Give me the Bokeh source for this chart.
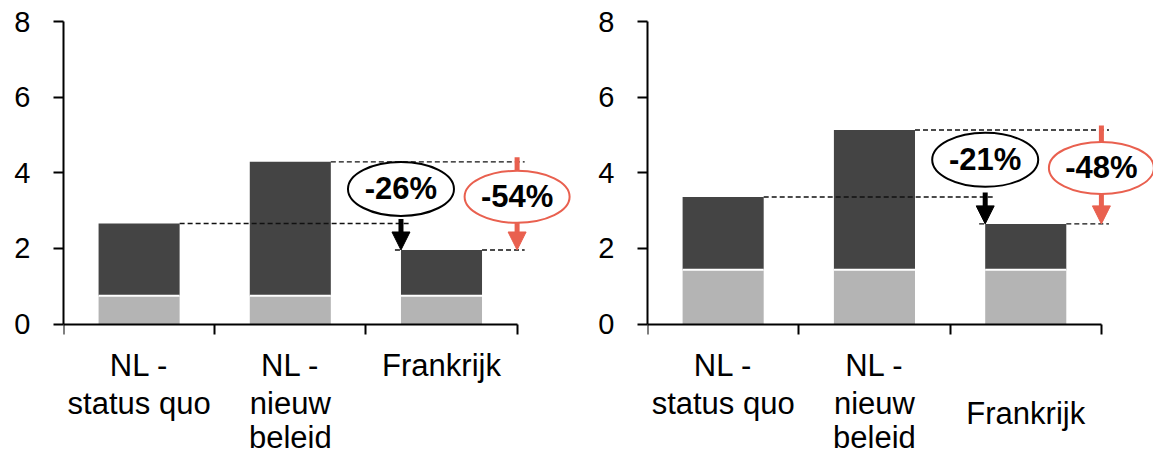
from bokeh.plotting import figure
from bokeh.layouts import row
from bokeh.models import Range1d, FixedTicker, Label, Arrow, NormalHead, LinearAxis
from bokeh.core.properties import value
from bokeh.embed import file_html
from bokeh.resources import INLINE

# ---------------- data ----------------
categories = [["NL -", "status quo"], ["NL -", "nieuw", "beleid"], ["Frankrijk"]]
y_ticks = [0, 2, 4, 6, 8]

left_base = [0.75, 0.75, 0.75]
left_total = [2.66, 4.29, 1.96]
left_pct = ["-26%", "-54%"]

right_base = [1.44, 1.44, 1.44]
right_total = [3.36, 5.13, 2.65]
right_pct = ["-21%", "-48%"]

# ---------------- style / layout ----------------
FONT = "Liberation Sans"
DARK = "#444444"
LIGHT = "#b4b4b4"
RED = "#e9604f"
BAR_W = 0.536
HEIGHT = 454
TOP = 21
PX_Y = 37.83  # pixels per y unit
LINE_Y = [-1.102, -2.094, -2.99]  # vertical centres of category label lines (data units)


def panel(base, total, pct, width, border_left, unit_px, frank_y):
    frame_w = width - border_left
    frame_h = HEIGHT - TOP
    y_start = 8 - frame_h / PX_Y
    p = figure(width=width, height=HEIGHT, output_backend="svg", toolbar_location=None,
               x_range=Range1d(0, frame_w / unit_px), y_range=Range1d(y_start, 8),
               x_axis_location=None, y_axis_location=None,
               min_border_left=border_left, min_border_right=0,
               min_border_top=TOP, min_border_bottom=0)
    p.outline_line_color = None
    p.xgrid.visible = False
    p.ygrid.visible = False
    p.background_fill_color = "white"
    p.border_fill_color = "white"

    n = len(total)
    xs = [i + 0.5 for i in range(n)]

    # y axis
    ya = LinearAxis(ticker=FixedTicker(ticks=y_ticks, minor_ticks=[]), bounds=(0, 8))
    ya.major_tick_out = 10
    ya.major_tick_in = 0
    ya.minor_tick_line_color = None
    ya.axis_line_width = 2
    ya.major_tick_line_width = 2
    ya.axis_line_color = "black"
    ya.major_tick_line_color = "black"
    ya.major_label_text_font = FONT
    ya.major_label_text_font_size = "29px"
    ya.major_label_text_color = "black"
    ya.major_label_standoff = 23
    p.add_layout(ya, "left")

    # x axis at y = 0
    xa = LinearAxis(ticker=FixedTicker(ticks=list(range(n + 1)), minor_ticks=[]),
                    bounds=(0, n), fixed_location=0)
    xa.major_tick_out = 10
    xa.major_tick_in = 0
    xa.minor_tick_line_color = None
    xa.axis_line_width = 2
    xa.major_tick_line_width = 2
    xa.axis_line_color = "black"
    xa.major_tick_line_color = "black"
    xa.major_label_overrides = {i: "" for i in range(n + 1)}
    p.add_layout(xa, "below")

    # stacked bars
    p.vbar(x=xs, width=BAR_W, bottom=0, top=base, fill_color=LIGHT, line_color=None)
    p.vbar(x=xs, width=BAR_W, bottom=base, top=total, fill_color=DARK, line_color=None)
    p.segment(x0=[x - BAR_W / 2 for x in xs], x1=[x + BAR_W / 2 for x in xs],
              y0=base, y1=base, line_color="white", line_width=2)

    t1, t2, t3 = total
    b3_left = xs[2] - BAR_W / 2
    b3_right = xs[2] + BAR_W / 2
    red_x = float(n)

    # dashed reference lines
    dash = dict(line_color="#111111", line_width=1.4, line_dash="5 3")
    p.segment(x0=[xs[0] + BAR_W / 2, xs[1] + BAR_W / 2, b3_left - 0.04, b3_right],
              x1=[b3_left + 0.06, red_x + 0.05, b3_left, red_x + 0.05],
              y0=[t1, t2, t3, t3], y1=[t1, t2, t3, t3], **dash)

    # red arrow (upper shaft, ellipse, lower arrow)
    red_yc = (t2 + t3) / 2 + 0.24
    red_h = 52
    p.segment(x0=[red_x], x1=[red_x], y0=[t2 + 0.12], y1=[red_yc], line_color=RED, line_width=5)
    p.ellipse(x=[red_x], y=[red_yc], width=105, height=red_h, width_units="screen",
              height_units="screen", fill_color="white", line_color=RED, line_width=2)
    p.add_layout(Arrow(end=NormalHead(size=18, fill_color=RED, line_color=RED),
                       x_start=red_x, y_start=red_yc - (red_h / 2) / PX_Y,
                       x_end=red_x, y_end=t3, line_color=RED, line_width=5))
    p.add_layout(Label(x=red_x, y=red_yc, text=pct[1], text_align="center",
                       text_baseline="middle", text_font=FONT, text_font_size="31px",
                       text_font_style="bold", text_color="black"))

    # black arrow and ellipse
    blk_yc = (t1 + t2) / 2 + 0.1
    p.ellipse(x=[b3_left], y=[blk_yc], width=106, height=54, width_units="screen",
              height_units="screen", fill_color="white", line_color="black", line_width=2)
    p.add_layout(Arrow(end=NormalHead(size=18, fill_color="black", line_color="black"),
                       x_start=b3_left, y_start=t1 + 0.12, x_end=b3_left, y_end=t3,
                       line_color="black", line_width=5))
    p.add_layout(Label(x=b3_left, y=blk_yc, text=pct[0], text_align="center",
                       text_baseline="middle", text_font=FONT, text_font_size="31px",
                       text_font_style="bold", text_color="black"))

    # category labels (below the axis, inside the extended frame)
    lx, ly, lt = [], [], []
    for i, lines in enumerate(categories):
        for j, line in enumerate(lines):
            lx.append(xs[i])
            ly.append(frank_y if len(lines) == 1 else LINE_Y[j])
            lt.append(line)
    p.text(x=lx, y=ly, text=lt, text_align="center", text_baseline="middle",
           text_font=value(FONT), text_font_size=value("31px"), text_color="black")
    return p


p1 = panel(left_base, left_total, left_pct, 586, 63, 151.2, LINE_Y[0])
p2 = panel(right_base, right_total, right_pct, 567, 61, 151.3, -2.374)

layout = row(p1, p2)
open("out.html", "w").write(file_html(layout, INLINE))
